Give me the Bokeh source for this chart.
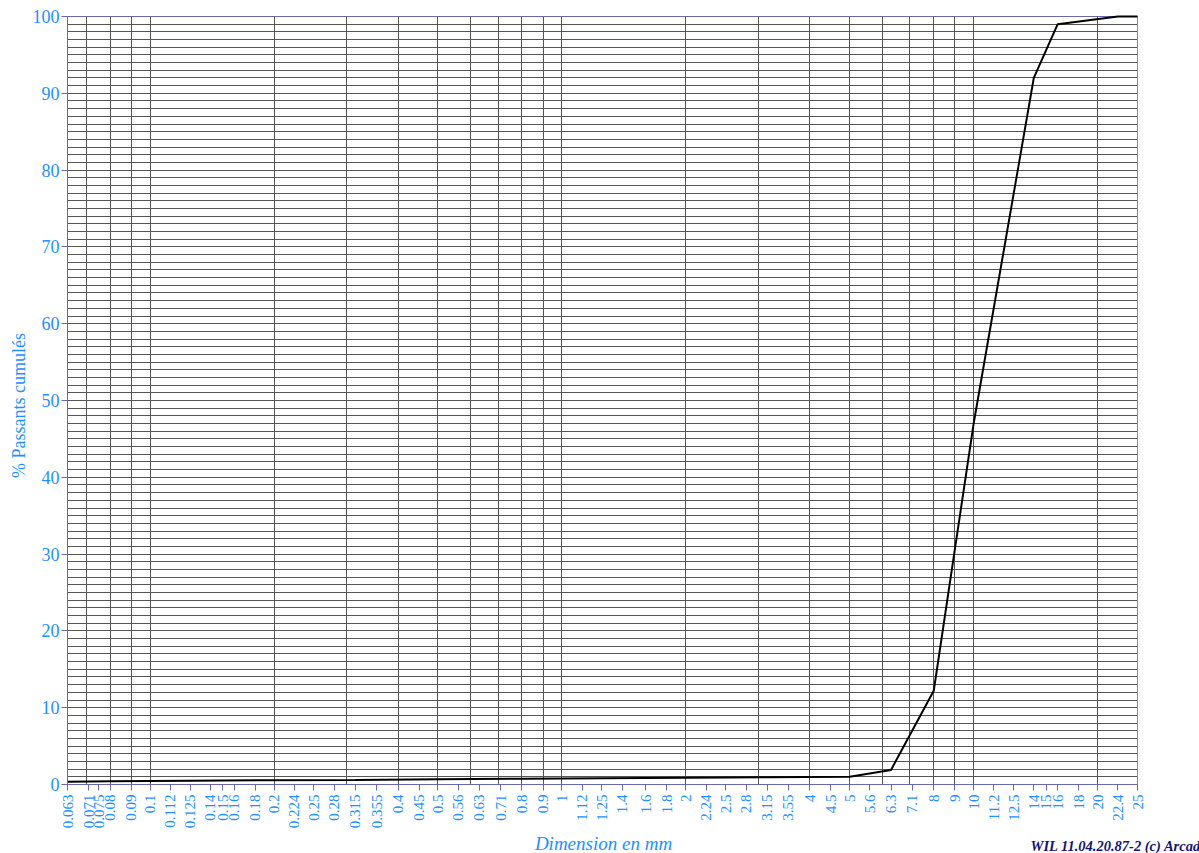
import math
from bokeh.plotting import figure
from bokeh.models import FixedTicker, Label, Range1d, Grid
from bokeh.embed import file_html
from bokeh.resources import INLINE

# ---- data ----
sizes_mm = [0.063, 0.08, 0.125, 0.315, 0.5, 0.8, 1.25, 2, 3.15, 5, 6.3, 8, 10, 14, 16, 22.4, 25]
passing_pct = [0.35, 0.42, 0.5, 0.6, 0.68, 0.75, 0.82, 0.88, 0.95, 1.0, 1.9, 12.2, 47, 92, 99, 100, 100]

x_tick_values = [0.063, 0.071, 0.075, 0.08, 0.09, 0.1, 0.112, 0.125, 0.14, 0.15, 0.16, 0.18,
                 0.2, 0.224, 0.25, 0.28, 0.315, 0.355, 0.4, 0.45, 0.5, 0.56, 0.63, 0.71,
                 0.8, 0.9, 1, 1.12, 1.25, 1.4, 1.6, 1.8, 2, 2.24, 2.5, 2.8, 3.15, 3.55,
                 4, 4.5, 5, 5.6, 6.3, 7.1, 8, 9, 10, 11.2, 12.5, 14, 15, 16, 18, 20, 22.4, 25]
x_tick_labels = ["0.063", "0.071", "0.075", "0.08", "0.09", "0.1", "0.112", "0.125", "0.14", "0.15",
                 "0.16", "0.18", "0.2", "0.224", "0.25", "0.28", "0.315", "0.355", "0.4", "0.45",
                 "0.5", "0.56", "0.63", "0.71", "0.8", "0.9", "1", "1.12", "1.25", "1.4", "1.6",
                 "1.8", "2", "2.24", "2.5", "2.8", "3.15", "3.55", "4", "4.5", "5", "5.6", "6.3",
                 "7.1", "8", "9", "10", "11.2", "12.5", "14", "15", "16", "18", "20", "22.4", "25"]
x_grid_values = [0.07, 0.08, 0.09, 0.1, 0.2, 0.3, 0.4, 0.5, 0.6, 0.7, 0.8, 0.9,
                 1, 2, 3, 4, 5, 6, 7, 8, 9, 10, 20]
y_tick_values = [0, 10, 20, 30, 40, 50, 60, 70, 80, 90, 100]
y_grid_values = list(range(0, 101))

x_title = "Dimension en mm"
y_title = "% Passants cumulés"
footer = "WIL 11.04.20.87-2 (c) Arcad"

BLUE = "#1E90FF"
AXIS = "#6868b0"
GRID = "#555555"
SERIF = "Liberation Serif"

# ---- layout (pixel positions of the plotting area inside the canvas) ----
W, H = 1199, 853
PX_LEFT, PX_RIGHT, PX_TOP, PX_BOTTOM = 67, 1137, 16, 784

x_min, x_max = x_tick_values[0], x_tick_values[-1]
y_min, y_max = y_tick_values[0], y_tick_values[-1]
dec = (PX_RIGHT - PX_LEFT) / (math.log10(x_max) - math.log10(x_min))
x_start = 10 ** (math.log10(x_min) - PX_LEFT / dec)
x_end = 10 ** (math.log10(x_max) + (W - PX_RIGHT) / dec)
unit = (PX_BOTTOM - PX_TOP) / (y_max - y_min)
y_start = y_min - (H - PX_BOTTOM) / unit
y_end = y_max + PX_TOP / unit

p = figure(width=W, height=H, x_axis_type="log", title_location=None,
           x_range=Range1d(x_start, x_end), y_range=Range1d(y_start, y_end),
           output_backend="svg", toolbar_location=None,
           min_border_left=0, min_border_right=0, min_border_top=0, min_border_bottom=0)
p.background_fill_color = "white"
p.border_fill_color = "white"
p.outline_line_color = None

# ---- grids ----
def styled_grid(g, ticks, cross, color):
    g.ticker = FixedTicker(ticks=ticks)
    g.grid_line_color = color
    g.grid_line_width = 1
    g.cross_bounds = cross

styled_grid(p.xgrid[0], x_grid_values, (y_min, y_max), GRID)
styled_grid(p.ygrid[0], y_grid_values, (x_min, x_max), GRID)
top_border = Grid(dimension=1)
styled_grid(top_border, [y_max], (x_min, x_max), AXIS)
right_border = Grid(dimension=0)
styled_grid(right_border, [x_max], (y_min, y_max), "#8888bb")
p.add_layout(top_border)
p.add_layout(right_border)

# ---- x axis ----
xa = p.xaxis[0]
xa.fixed_location = y_min
xa.bounds = (x_min, x_max)
xa.ticker = FixedTicker(ticks=x_tick_values)
xa.major_label_overrides = {v: s for v, s in zip(x_tick_values, x_tick_labels)}
xa.major_label_orientation = math.pi / 2
xa.major_label_text_font = SERIF
xa.major_label_text_font_size = "15px"
xa.major_label_text_color = BLUE
xa.major_label_standoff = 4
xa.axis_line_color = AXIS
xa.major_tick_line_color = AXIS
xa.major_tick_out = 6
xa.major_tick_in = 0
xa.minor_tick_line_color = None

# ---- y axis ----
ya = p.yaxis[0]
ya.fixed_location = x_min
ya.bounds = (y_min, y_max)
ya.ticker = FixedTicker(ticks=y_tick_values)
ya.major_label_text_font = SERIF
ya.major_label_text_font_size = "18px"
ya.major_label_text_color = BLUE
ya.major_label_standoff = 2
ya.axis_line_color = AXIS
ya.major_tick_line_color = AXIS
ya.major_tick_out = 6
ya.major_tick_in = 0
ya.minor_tick_line_color = None

# ---- curve ----
p.line(sizes_mm, passing_pct, line_color="black", line_width=2)

# ---- titles (canvas pixel units, origin top-left) ----
p.add_layout(Label(x=18, y=405, x_units="canvas", y_units="canvas", text=y_title,
                   angle=math.pi / 2, text_align="center", text_baseline="middle",
                   text_font=SERIF, text_font_size="18px", text_color=BLUE))
p.add_layout(Label(x=603, y=843, x_units="canvas", y_units="canvas", text=x_title,
                   text_align="center", text_baseline="middle", text_font=SERIF,
                   text_font_style="italic", text_font_size="19px", text_color=BLUE))
p.add_layout(Label(x=1030, y=845, x_units="canvas", y_units="canvas", text=footer,
                   text_align="left", text_baseline="middle", text_font=SERIF,
                   text_font_style="bold italic", text_font_size="14.5px", text_color="#14146e"))

open("out.html", "w").write(file_html(p, INLINE))
